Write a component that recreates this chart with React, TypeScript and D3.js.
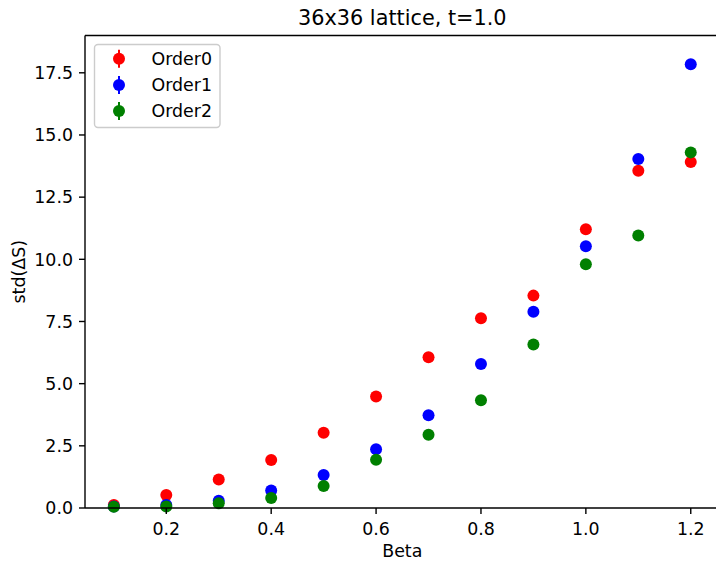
import React from "react";
import * as d3 from "d3";

const betas = [0.1, 0.2, 0.3, 0.4, 0.5, 0.6, 0.7, 0.8, 0.9, 1.0, 1.1, 1.2];
const order0 = [0.12, 0.52, 1.15, 1.93, 3.03, 4.48, 6.06, 7.63, 8.54, 11.21, 13.56, 13.91];
const order1 = [0.06, 0.12, 0.29, 0.7, 1.33, 2.36, 3.73, 5.79, 7.89, 10.53, 14.03, 17.84];
const order2 = [0.05, 0.06, 0.19, 0.4, 0.88, 1.94, 2.95, 4.33, 6.57, 9.8, 10.96, 14.3];
const seriesNames = ["Order0", "Order1", "Order2"];
const seriesColors = ["#ff0000", "#0000ff", "#008000"];
const xTicks = [0.2, 0.4, 0.6, 0.8, 1.0, 1.2];
const yTicks = [0, 2.5, 5, 7.5, 10, 12.5, 15, 17.5];
const title = "36x36 lattice, t=1.0";

const W = 716;
const H = 561;
const left = 85;
const top = 35.5;
const bottom = 508;
const rightFull = 719.6;
const FONT = "'DejaVu Sans', sans-serif";

export default function App() {
  const x = d3.scaleLinear().domain([0.045, 1.255]).range([left, rightFull]);
  const y = d3.scaleLinear().domain([0, 19.0]).range([bottom, top]);
  const all = [order0, order1, order2];
  const fmt = d3.format(".1f");
  return (
    <svg
      width={W}
      height={H}
      style={{ position: "absolute", left: 0, top: 0, background: "#fff" }}
      fontFamily={FONT}
    >
      <rect x={0} y={0} width={W} height={H} fill="#fff" />
      {all.map((vals, si) => (
        <g key={si}>
          {vals.map((v, i) => (
            <circle key={i} cx={x(betas[i])} cy={y(v)} r={6} fill={seriesColors[si]} />
          ))}
        </g>
      ))}
      {/* spines */}
      <line x1={left} x2={left} y1={top} y2={bottom} stroke="#000" strokeWidth={1.4} />
      <line x1={left} x2={W} y1={bottom} y2={bottom} stroke="#000" strokeWidth={1.4} />
      <line x1={left} x2={W} y1={top} y2={top} stroke="#000" strokeWidth={1.4} />
      {/* x ticks */}
      {xTicks.map((t) => (
        <g key={t}>
          <line x1={x(t)} x2={x(t)} y1={bottom} y2={bottom + 6} stroke="#000" strokeWidth={1.4} />
          <text x={x(t)} y={535} fontSize={17.4} textAnchor="middle" fill="#000">
            {fmt(t)}
          </text>
        </g>
      ))}
      {/* y ticks */}
      {yTicks.map((t) => (
        <g key={t}>
          <line x1={left - 6} x2={left} y1={y(t)} y2={y(t)} stroke="#000" strokeWidth={1.4} />
          <text x={73} y={y(t) + 6.3} fontSize={17.4} textAnchor="end" fill="#000">
            {fmt(t)}
          </text>
        </g>
      ))}
      <text x={(left + rightFull) / 2} y={557} fontSize={17.4} textAnchor="middle" fill="#000">
        Beta
      </text>
      <text
        transform={`translate(24.5, ${(top + bottom) / 2}) rotate(-90)`}
        fontSize={17.4}
        textAnchor="middle"
        fill="#000"
      >
        std(ΔS)
      </text>
      <text x={(left + rightFull) / 2} y={25} fontSize={20.8} textAnchor="middle" fill="#000">
        {title}
      </text>
      {/* legend */}
      <rect
        x={94.5}
        y={44.5}
        width={125.5}
        height={83}
        rx={3.5}
        fill="#fff"
        fillOpacity={0.8}
        stroke="#cccccc"
        strokeWidth={1.4}
      />
      {seriesNames.map((name, i) => {
        const cy = 58.7 + i * 26.2;
        return (
          <g key={name}>
            <line x1={119} x2={119} y1={cy - 9} y2={cy + 9} stroke={seriesColors[i]} strokeWidth={2} />
            <circle cx={119} cy={cy} r={6} fill={seriesColors[i]} />
            <text x={151.5} y={cy + 6.3} fontSize={17.4} fill="#000">
              {name}
            </text>
          </g>
        );
      })}
    </svg>
  );
}
